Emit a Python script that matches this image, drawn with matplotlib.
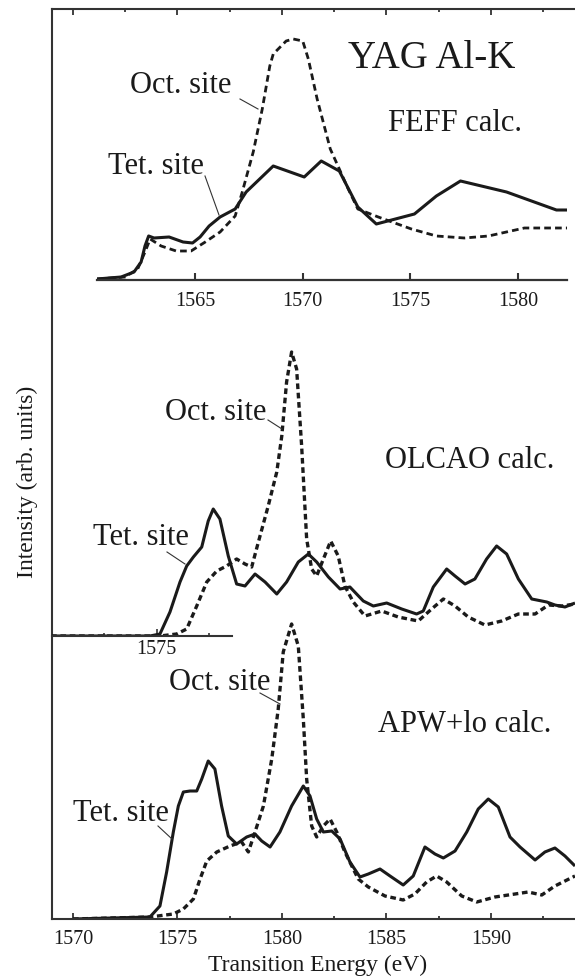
import numpy as np
import matplotlib.pyplot as plt
from matplotlib.lines import Line2D
from matplotlib.ticker import FixedLocator

plt.rcParams['font.family'] = ['Liberation Serif', 'DejaVu Serif']

W, H = 575, 978
ink = '#1a1a1a'

# ---- FEFF calc. (top panel, own energy axis)
feff_tet_x = [1560.44, 1561.56, 1562.16, 1562.49, 1562.67, 1562.84, 1563.09, 1563.79,
              1564.44, 1564.88, 1565.23, 1565.65, 1566.16, 1566.86, 1567.37, 1568.63,
              1570.07, 1570.86, 1571.70, 1572.56, 1573.42, 1575.19, 1576.21, 1577.33,
              1579.47, 1581.79, 1582.30]
feff_tet_y = [1, 3, 8, 18, 34, 44, 42, 43, 38, 37, 43, 54, 63, 71, 88, 114,
              103, 119, 109, 73, 56, 66, 84, 99, 88, 70, 70]
feff_oct_x = [1560.44, 1561.74, 1562.33, 1562.67, 1562.91, 1563.42, 1564.12, 1564.81,
              1565.47, 1566.16, 1566.86, 1567.19, 1567.70, 1568.12, 1568.47, 1568.63,
              1569.23, 1569.56, 1570.00, 1570.26, 1570.67, 1571.28, 1571.70, 1572.05,
              1572.56, 1573.51, 1574.02, 1575.05, 1576.21, 1577.51, 1578.63, 1580.30,
              1582.30]
feff_oct_y = [1, 3, 11, 28, 41, 34, 29, 29, 38, 48, 64, 88, 128, 171, 214, 226,
              239, 241, 239, 221, 181, 131, 111, 94, 71, 63, 59, 51, 44, 42, 44, 52, 52]

# ---- OLCAO calc. (middle panel)
olcao_tet_x = [1569.04, 1573.68, 1574.16, 1574.64, 1575.12, 1575.44, 1575.76, 1576.16,
               1576.47, 1576.71, 1577.03, 1577.43, 1577.83, 1578.23, 1578.71, 1579.19,
               1579.75, 1580.22, 1580.78, 1581.26, 1581.66, 1582.22, 1582.78, 1583.25,
               1583.89, 1584.37, 1585.01, 1585.73, 1586.44, 1586.76, 1587.24, 1587.88,
               1588.28, 1588.76, 1589.23, 1589.79, 1590.27, 1590.75, 1591.31, 1591.95,
               1592.67, 1593.06, 1593.54, 1594.02]
olcao_tet_y = [0, 0, 2, 24, 54, 70, 79, 89, 115, 127, 117, 80, 52, 50, 62, 54, 42, 54,
               74, 82, 74, 59, 47, 49, 35, 30, 33, 27, 22, 25, 49, 67, 60, 52, 57, 77,
               90, 82, 57, 37, 34, 31, 29, 33]
olcao_oct_x = [1568.95, 1574.16, 1574.96, 1575.44, 1575.92, 1576.40, 1576.88, 1577.35,
               1577.83, 1578.23, 1578.55, 1578.87, 1579.34, 1579.75, 1579.99, 1580.22,
               1580.46, 1580.70, 1580.94, 1581.18, 1581.42, 1581.66, 1581.98, 1582.33,
               1582.69, 1583.01, 1583.41, 1583.97, 1584.77, 1585.56, 1586.52, 1587.16,
               1587.72, 1588.28, 1588.91, 1589.71, 1590.51, 1591.31, 1592.11, 1592.75,
               1593.39, 1594.02]
olcao_oct_y = [0, 0, 2, 7, 30, 54, 65, 70, 77, 72, 69, 94, 130, 164, 200, 254, 284,
               267, 190, 97, 67, 60, 77, 95, 80, 50, 34, 20, 25, 19, 15, 27, 37, 30,
               19, 11, 15, 22, 22, 31, 30, 32]

# ---- APW+lo calc. (bottom panel)
apw_tet_x = [1570.00, 1573.68, 1574.16, 1574.48, 1574.80, 1575.04, 1575.28, 1575.60,
             1575.92, 1576.16, 1576.47, 1576.79, 1577.11, 1577.43, 1577.83, 1578.31,
             1578.71, 1579.03, 1579.43, 1579.90, 1580.46, 1581.02, 1581.34, 1581.66,
             1581.98, 1582.38, 1582.78, 1583.25, 1583.73, 1584.13, 1584.69, 1585.17,
             1585.80, 1586.28, 1586.84, 1587.32, 1587.72, 1588.28, 1588.84, 1589.39,
             1589.87, 1590.35, 1590.91, 1591.39, 1592.11, 1592.58, 1593.06, 1593.54,
             1594.02]
apw_tet_y = [0, 2, 13, 47, 87, 113, 127, 128, 128, 140, 158, 150, 113, 83, 75, 82, 85,
             78, 72, 87, 113, 133, 123, 100, 87, 88, 80, 57, 42, 45, 50, 43, 34, 43,
             72, 65, 61, 68, 87, 110, 120, 112, 82, 72, 59, 67, 71, 63, 53]
apw_oct_x = [1570.00, 1573.68, 1574.80, 1575.28, 1575.76, 1576.08, 1576.40, 1576.88,
             1577.51, 1578.07, 1578.39, 1578.71, 1579.11, 1579.51, 1579.82, 1580.06,
             1580.46, 1580.78, 1581.02, 1581.18, 1581.42, 1581.66, 1581.98, 1582.30,
             1582.62, 1583.01, 1583.41, 1583.65, 1584.13, 1584.93, 1585.80, 1586.36,
             1586.92, 1587.40, 1587.88, 1588.60, 1589.32, 1590.19, 1591.15, 1591.78,
             1592.43, 1593.06, 1594.02]
apw_oct_y = [0, 2, 5, 10, 20, 40, 58, 67, 73, 77, 67, 87, 113, 160, 210, 267, 295,
             273, 200, 140, 93, 82, 93, 100, 87, 67, 50, 40, 32, 23, 19, 25, 37, 43,
             37, 23, 17, 22, 25, 27, 24, 33, 43]

main_ticks = [1570, 1575, 1580, 1585, 1590]
feff_ticks = [1565, 1570, 1575, 1580]


def box(l, t, r, b):
    # pixel box -> figure fraction rect
    return [l / W, 1 - b / H, (r - l) / W, (b - t) / H]


def fx(x):
    return x / W


def fy(y):
    return 1 - y / H


fig = plt.figure(figsize=(W / 100, H / 100), dpi=100)

solid = dict(color=ink, lw=2.2, solid_joinstyle='round', solid_capstyle='butt')
dashed = dict(color=ink, lw=2.4, ls=(0, (1.7, 1.1)))

# main frame + APW+lo curves
ax = fig.add_axes(box(52, 10, 575, 920))
ax.set_xlim(1568.995, 1594.02)
ax.set_ylim(0, 910)
ax.plot(apw_tet_x, apw_tet_y, **solid)
ax.plot(apw_oct_x, apw_oct_y, **dashed)
ax.spines['right'].set_visible(False)
for s in ['left', 'top', 'bottom']:
    ax.spines[s].set_linewidth(1.5)
    ax.spines[s].set_color('#333333')
ax.set_yticks([])
ax.xaxis.set_major_locator(FixedLocator(main_ticks))
ax.xaxis.set_minor_locator(FixedLocator(np.arange(1572.5, 1594, 5)))
ax.tick_params(axis='x', which='both', direction='in', top=True, bottom=True,
               color='#333333', width=1.3, labelsize=14.5, labelcolor=ink, pad=7)
ax.tick_params(axis='x', which='major', length=4.5)
ax.tick_params(axis='x', which='minor', length=2.5)
ax.patch.set_alpha(0)

fig.text(fx(318), fy(965), 'Transition Energy (eV)', fontsize=17, color=ink,
         ha='center', va='center')
fig.text(fx(27), fy(482), 'Intensity (arb. units)', fontsize=17, color=ink,
         ha='center', va='center', rotation=90)

# OLCAO panel
axm = fig.add_axes(box(52, 10, 575, 637))
axm.set_xlim(1568.995, 1594.02)
axm.set_ylim(0, 627)
axm.plot(olcao_tet_x, olcao_tet_y, **solid)
axm.plot(olcao_oct_x, olcao_oct_y, **dashed)
for s in ['left', 'top', 'right']:
    axm.spines[s].set_visible(False)
axm.spines['bottom'].set_bounds(1568.995, 1577.6)
axm.spines['bottom'].set_linewidth(1.5)
axm.spines['bottom'].set_color('#333333')
axm.set_yticks([])
axm.xaxis.set_major_locator(FixedLocator([1574.0]))
axm.xaxis.set_minor_locator(FixedLocator([1571.5, 1576.5]))
axm.set_xticklabels(['1575'])
axm.tick_params(axis='x', which='both', direction='in', color='#333333', width=1.2,
                labelsize=14.5, labelcolor=ink, pad=2)
axm.tick_params(axis='x', which='major', length=5)
axm.tick_params(axis='x', which='minor', length=2.5)
axm.patch.set_alpha(0)

# FEFF panel
axt = fig.add_axes(box(97, 10, 567, 281))
axt.set_xlim(1560.44, 1582.28)
axt.set_ylim(0, 271)
axt.plot(feff_tet_x, feff_tet_y, color=ink, lw=2.2)
axt.plot(feff_oct_x, feff_oct_y, color=ink, lw=2.0, ls=(0, (2.4, 1.5)))
for s in ['left', 'top', 'right']:
    axt.spines[s].set_visible(False)
axt.spines['bottom'].set_linewidth(1.6)
axt.spines['bottom'].set_color('#333333')
axt.set_yticks([])
axt.set_xticks(feff_ticks)
axt.tick_params(axis='x', direction='in', length=5, width=1.5, color='#333333',
                labelsize=14.5, labelcolor=ink, pad=8)
axt.patch.set_alpha(0)

# labels
lab = dict(fontsize=22, color=ink, ha='left', va='baseline')
fig.text(fx(348), fy(68), 'YAG Al-K', fontsize=28, color=ink, ha='left', va='baseline')
fig.text(fx(388), fy(131), 'FEFF calc.', **lab)
fig.text(fx(130), fy(93), 'Oct. site', **lab)
fig.text(fx(108), fy(174), 'Tet. site', **lab)
fig.text(fx(165), fy(420), 'Oct. site', **lab)
fig.text(fx(385), fy(468), 'OLCAO calc.', **lab)
fig.text(fx(93), fy(545), 'Tet. site', **lab)
fig.text(fx(169), fy(690), 'Oct. site', **lab)
fig.text(fx(378), fy(732), 'APW+lo calc.', **lab)
fig.text(fx(73), fy(821), 'Tet. site', **lab)

# leader lines
leaders = [((240, 100), (258, 110)), ((205, 177), (219, 216)),
           ((268, 421), (282, 430)), ((167, 553), (185, 565)),
           ((260, 694), (280, 705)), ((158, 827), (172, 840))]
for (x0, y0), (x1, y1) in leaders:
    fig.add_artist(Line2D([fx(x0), fx(x1)], [fy(y0), fy(y1)], color='#333333',
                          lw=0.8, transform=fig.transFigure))

fig.savefig('out.png', dpi=100)
